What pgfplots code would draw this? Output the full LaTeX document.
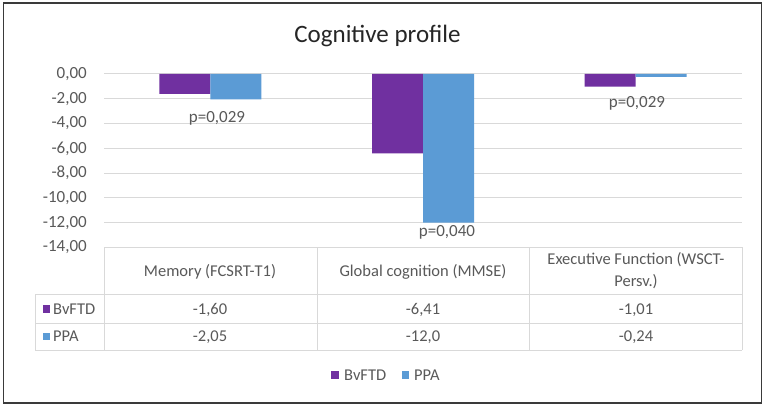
\documentclass[border=0pt]{standalone}
\usepackage{pgfplots}
\pgfplotsset{compat=1.18}
\usepackage{fontspec}
\setmainfont{Carlito}
\definecolor{bvftd}{HTML}{7030A0}
\definecolor{ppa}{HTML}{5B9BD5}
\definecolor{txt}{HTML}{595959}
\definecolor{grd}{HTML}{D9D9D9}
\definecolor{frame}{HTML}{3A3A3A}
\begin{document}
\begin{tikzpicture}
\useasboundingbox (0,0) rectangle (765pt,407pt);
\fill[white] (0,0) rectangle (765pt,407pt);
\draw[line width=1.5pt, frame] (3.5pt,4pt) rectangle (761.5pt,404pt);
\node[anchor=base, font=\fontsize{25}{30}\selectfont, text=black!85] at (377.5pt,364pt) {Cognitive profile};
\begin{axis}[
  at={(104pt,159.5pt)}, anchor=south west,
  scale only axis, width=638pt, height=173.5pt,
  ymin=-14, ymax=0, xmin=-0.5, xmax=2.5,
  ytick={-14,-12,...,0}, xtick=\empty,
  ymajorgrids, grid style={grd, line width=1pt},
  axis line style={draw=none},
  major tick length=0pt,
  ybar=0pt, bar width=51pt,
  clip=false,
  yticklabel={\pgfmathprintnumber[fixed,fixed zerofill,precision=2,use comma,assume math mode=true]{\tick}},
  yticklabel style={font=\fontsize{17}{20}\selectfont, text=txt, inner sep=0pt, anchor=east, xshift=-17pt},
]
\addplot[fill=bvftd, draw=none] coordinates {(0,-1.60) (1,-6.41) (2,-1.01)};
\addplot[fill=ppa, draw=none] coordinates {(0,-2.05) (1,-12.0) (2,-0.24)};
\end{axis}
% p-value labels
\begin{scope}[every node/.style={anchor=base, font=\fontsize{17}{20}\selectfont, text=txt}]
\node at (217pt,284pt) {p=0,029};
\node at (447pt,170pt) {p=0,040};
\node at (637pt,299pt) {p=0,029};
\end{scope}
% data table grid
\begin{scope}[grd, line width=1pt]
\draw (104pt,159.5pt) -- (742pt,159.5pt);
\draw (35pt,112pt) -- (742pt,112pt);
\draw (35pt,84pt) -- (742pt,84pt);
\draw (35pt,57pt) -- (742pt,57pt);
\draw (35pt,112pt) -- (35pt,57pt);
\draw (104pt,159.5pt) -- (104pt,57pt);
\draw (317pt,159.5pt) -- (317pt,57pt);
\draw (529.5pt,159.5pt) -- (529.5pt,57pt);
\draw (742pt,159.5pt) -- (742pt,57pt);
\end{scope}
\begin{scope}[every node/.style={font=\fontsize{16.5}{22}\selectfont, text=txt, inner sep=0pt}]
\node[anchor=base] at (210pt,130.2pt) {Memory (FCSRT-T1)};
\node[anchor=base] at (423pt,130.2pt) {Global cognition (MMSE)};
\node[anchor=base] at (636pt,142pt) {Executive Function (WSCT-};
\node[anchor=base] at (636pt,120pt) {Persv.)};
\fill[bvftd] (42.5pt,94.25pt) rectangle (50pt,101.75pt);
\node[anchor=base west] at (53pt,92.7pt) {BvFTD};
\fill[ppa] (42.5pt,66.75pt) rectangle (50pt,74.25pt);
\node[anchor=base west] at (53pt,65.2pt) {PPA};
\node[anchor=base] at (210pt,92.7pt) {-1,60};
\node[anchor=base] at (423pt,92.7pt) {-6,41};
\node[anchor=base] at (636pt,92.7pt) {-1,01};
\node[anchor=base] at (210pt,65.2pt) {-2,05};
\node[anchor=base] at (423pt,65.2pt) {-12,0};
\node[anchor=base] at (636pt,65.2pt) {-0,24};
% legend
\fill[bvftd] (331pt,28.25pt) rectangle (338.5pt,35.75pt);
\node[anchor=base west] at (344pt,26.7pt) {BvFTD};
\fill[ppa] (401.5pt,28.25pt) rectangle (409pt,35.75pt);
\node[anchor=base west] at (414pt,26.7pt) {PPA};
\end{scope}
\end{tikzpicture}
\end{document}
